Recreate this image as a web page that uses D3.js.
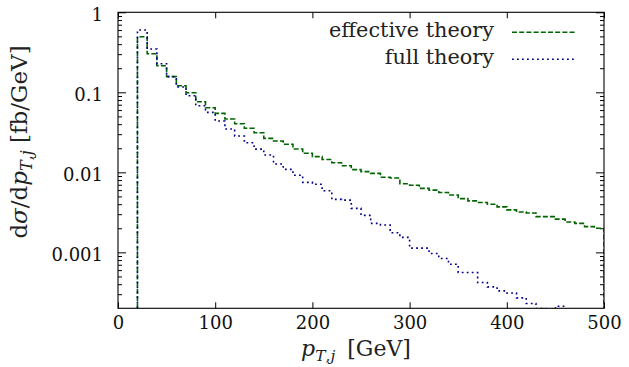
<!DOCTYPE html>
<html><head><meta charset="utf-8">
<script src="https://cdn.jsdelivr.net/npm/d3@7"></script>
<style>html,body{margin:0;padding:0;background:#fff;} svg{display:block;} text{white-space:pre;}</style>
</head><body>
<script>
// ---- data ----
const binLow = [20,30,40,50,60,70,80,90,100,110,120,130,140,150,160,170,180,190,200,210,220,230,240,250,260,270,280,290,300,310,320,330,340,350,360,370,380,390,400,410,420,430,440,450,460,470,480,490];
const binHigh = 500;
const effective = [0.495,0.304,0.215,0.157,0.121,0.0989,0.0763,0.0642,0.0546,0.0464,0.0405,0.0355,0.0313,0.0266,0.0246,0.0224,0.0196,0.0173,0.0157,0.0145,0.0132,0.0121,0.0108,0.0102,0.0097,0.0087,0.0085,0.0072,0.0069,0.0063,0.0060,0.0056,0.0052,0.0047,0.0044,0.0042,0.0040,0.0037,0.0034,0.0032,0.0031,0.0028,0.0028,0.0026,0.0024,0.0023,0.0021,0.0020];
const full = [0.60,0.348,0.228,0.157,0.1165,0.0907,0.068,0.0562,0.0438,0.0348,0.0284,0.0234,0.0195,0.0165,0.0127,0.0109,0.0092,0.0075,0.0071,0.0059,0.0046,0.0045,0.00355,0.0029,0.0023,0.0022,0.00176,0.00154,0.00113,0.00113,0.00097,0.00084,0.00071,0.00056,0.00056,0.00042,0.00037,0.00033,0.00031,0.00027,0.00023,0.000198,0.00017,0.000212,0.00017,0.00015,0.00014,0.00012];
const xTicks = [0,100,200,300,400,500];
const yTicks = [1,0.1,0.01,0.001];
const yTickLabels = ["1","0.1","0.01","0.001"];
const seriesNames = ["effective theory","full theory"];
const yDomain = [0.0002, 1];
const xDomain = [0, 500];

// ---- layout ----
const W = 629, H = 367;
const m = {left:118, top:12.3, right:25, bottom:58.7};
const FONT = "DejaVu Serif";
const GREEN = "#006400", BLUE = "#00008b";

const svg = d3.select("body").append("svg").attr("width", W).attr("height", H);
svg.append("rect").attr("width", W).attr("height", H).attr("fill", "#fff");

const x = d3.scaleLinear().domain(xDomain).range([m.left, W - m.right]);
const y = d3.scaleLog().domain(yDomain).range([H - m.bottom, m.top]);

const minor = [];
[0.0001,0.001,0.01,0.1].forEach(d => { for (let k = 2; k <= 9; k++) { const v = d * k; if (v > yDomain[0] * 1.001 && v < yDomain[1]) minor.push(v); } });

function styleAxis(g) {
  g.select(".domain").remove();
  g.attr("font-family", FONT).attr("font-size", 18);
  g.selectAll("line").attr("stroke", "#000");
  g.selectAll("text").attr("fill", "#111");
}

// bottom axis
svg.append("g").attr("transform", `translate(0,${y.range()[0]})`)
  .call(d3.axisBottom(x).tickValues(xTicks).tickSizeInner(-6).tickSizeOuter(0).tickPadding(8))
  .call(styleAxis);
// top axis (ticks only)
svg.append("g").attr("transform", `translate(0,${y.range()[1]})`)
  .call(d3.axisTop(x).tickValues(xTicks).tickSizeInner(-6).tickSizeOuter(0).tickFormat(""))
  .call(styleAxis);
// left axis
const gl = svg.append("g").attr("transform", `translate(${x.range()[0]},0)`)
  .call(d3.axisLeft(y).tickValues(yTicks).tickFormat((d, i) => yTickLabels[i]).tickSizeInner(-8).tickSizeOuter(0).tickPadding(15))
  .call(styleAxis);
gl.selectAll("text").attr("dy", "0.45em");
svg.append("g").attr("transform", `translate(${x.range()[0]},0)`)
  .call(d3.axisLeft(y).tickValues(minor).tickFormat("").tickSizeInner(-4).tickSizeOuter(0))
  .call(styleAxis);
// right axis
svg.append("g").attr("transform", `translate(${x.range()[1]},0)`)
  .call(d3.axisRight(y).tickValues(yTicks).tickFormat("").tickSizeInner(-8).tickSizeOuter(0))
  .call(styleAxis);
svg.append("g").attr("transform", `translate(${x.range()[1]},0)`)
  .call(d3.axisRight(y).tickValues(minor).tickFormat("").tickSizeInner(-4).tickSizeOuter(0))
  .call(styleAxis);

// clip
svg.append("clipPath").attr("id", "plotclip").append("rect")
  .attr("x", x.range()[0]).attr("y", y.range()[1])
  .attr("width", x.range()[1] - x.range()[0]).attr("height", y.range()[0] - y.range()[1]);

const line = d3.line().x(d => x(d[0])).y(d => y(d[1])).curve(d3.curveStepAfter);
function pts(vals) {
  const p = [[binLow[0], yDomain[0]]];
  binLow.forEach((b, i) => p.push([b, vals[i]]));
  p.push([binHigh, vals[vals.length - 1]]);
  p.push([binHigh, yDomain[0]]);
  return p;
}
const series = [
  {name: seriesNames[0], vals: effective, color: GREEN, dash: "5,2.2"},
  {name: seriesNames[1], vals: full, color: BLUE, dash: "1.8,3.2"}
];
const gp = svg.append("g").attr("clip-path", "url(#plotclip)");
series.forEach(s => {
  gp.append("path").attr("d", line(pts(s.vals))).attr("fill", "none")
    .attr("stroke", s.color).attr("stroke-width", 1.6).attr("stroke-dasharray", s.dash);
});

// frame
svg.append("rect").attr("x", x.range()[0]).attr("y", y.range()[1])
  .attr("width", x.range()[1] - x.range()[0]).attr("height", y.range()[0] - y.range()[1])
  .attr("fill", "none").attr("stroke", "#000").attr("stroke-width", 1.1);

// legend
const legY = [37.3, 64.3];
series.forEach((s, i) => {
  svg.append("text").attr("x", 494).attr("y", legY[i]).attr("text-anchor", "end")
    .attr("font-family", FONT).attr("font-size", 20.8).attr("fill", "#222").text(s.name);
  svg.append("line").attr("x1", 512).attr("x2", 576).attr("y1", legY[i] - 5).attr("y2", legY[i] - 5)
    .attr("stroke", s.color).attr("stroke-width", 1.6).attr("stroke-dasharray", s.dash);
});

// x label
const xl = svg.append("text").attr("x", 356).attr("y", 356).attr("text-anchor", "middle")
  .attr("font-family", FONT).attr("font-size", 22).attr("fill", "#222");
xl.append("tspan").attr("font-style", "italic").text("p");
xl.append("tspan").attr("dy", 5).attr("font-size", 15.5).attr("font-style", "italic").text("T");
xl.append("tspan").attr("font-size", 15.5).text(",");
xl.append("tspan").attr("font-size", 15.5).attr("font-style", "italic").text("j");
xl.append("tspan").attr("dy", -5).attr("dx", 12).text("[GeV]");

// y label
const yl = svg.append("text").attr("transform", "translate(27,142) rotate(-90)").attr("text-anchor", "middle")
  .attr("font-family", FONT).attr("font-size", 23).attr("fill", "#222");
yl.append("tspan").text("d");
yl.append("tspan").attr("font-style", "italic").text("σ");
yl.append("tspan").text("/d");
yl.append("tspan").attr("font-style", "italic").text("p");
yl.append("tspan").attr("dy", 5).attr("font-size", 16).attr("font-style", "italic").text("T");
yl.append("tspan").attr("font-size", 16).text(",");
yl.append("tspan").attr("font-size", 16).attr("font-style", "italic").text("j");
yl.append("tspan").attr("dy", -5).text(" [fb/GeV]");
</script>
</body></html>
